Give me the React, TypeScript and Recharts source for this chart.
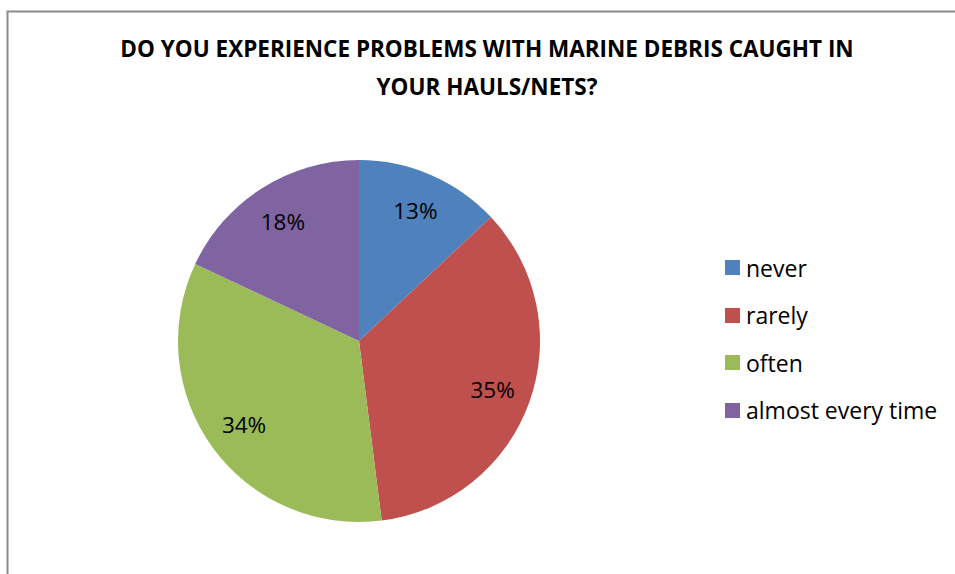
import React from 'react';
import { PieChart, Pie, Cell, Legend } from 'recharts';

const answers = ['never', 'rarely', 'often', 'almost every time'];
const shares = [13, 35, 34, 18];
const colors = ['#4F81BD', '#C0504D', '#9BBB59', '#8064A2'];
const titleLines = [
  'DO YOU EXPERIENCE PROBLEMS WITH MARINE DEBRIS CAUGHT IN',
  'YOUR HAULS/NETS?',
];

const data = answers.map((answer, i) => ({ answer, share: shares[i] }));

const RADIAN = Math.PI / 180;
const font = '"Open Sans", Lato, sans-serif';

const renderLabel = (props: any) => {
  const { cx, cy, midAngle, outerRadius, value } = props;
  const r = outerRadius * 0.785;
  const x = cx + r * Math.cos(-midAngle * RADIAN);
  const y = cy + r * Math.sin(-midAngle * RADIAN);
  return (
    <text
      x={x}
      y={y}
      textAnchor="middle"
      dominantBaseline="central"
      fill="#000"
      fontSize={22.5}
      fontFamily={font}
    >
      {value}%
    </text>
  );
};

const renderLegend = () => (
  <div style={{ fontFamily: font, fontSize: 23, color: '#000' }}>
    {data.map((d, i) => (
      <div
        key={d.answer}
        style={{ display: 'flex', alignItems: 'center', height: 47.5 }}
      >
        <span
          style={{
            width: 15,
            height: 15,
            background: colors[i],
            marginRight: 6,
            display: 'inline-block',
          }}
        />
        {d.answer}
      </div>
    ))}
  </div>
);

export default function App() {
  return (
    <div style={{ position: 'absolute', left: 0, top: 0 }}>
      <PieChart width={955} height={574} margin={{ top: 0, right: 0, bottom: 0, left: 0 }}>
        <rect x={7.5} y={11.5} width={960} height={580} fill="#fff" stroke="#8c8c8c" strokeWidth={2} />
        {titleLines.map((line, i) => (
          <text
            key={i}
            x={487}
            y={48 + i * 38}
            textAnchor="middle"
            dominantBaseline="central"
            fontFamily={font}
            fontWeight={700}
            fontSize={22.5}
            fill="#000"
          >
            {line}
          </text>
        ))}
        <Pie
          data={data}
          dataKey="share"
          nameKey="answer"
          cx={359}
          cy={341}
          outerRadius={181}
          startAngle={90}
          endAngle={-270}
          stroke="none"
          label={renderLabel}
          labelLine={false}
          isAnimationActive={false}
        >
          {data.map((d, i) => (
            <Cell key={d.answer} fill={colors[i]} />
          ))}
        </Pie>
        <Legend
          layout="vertical"
          content={renderLegend}
          wrapperStyle={{ position: 'absolute', left: 725, top: 244, width: 230 }}
        />
      </PieChart>
    </div>
  );
}
